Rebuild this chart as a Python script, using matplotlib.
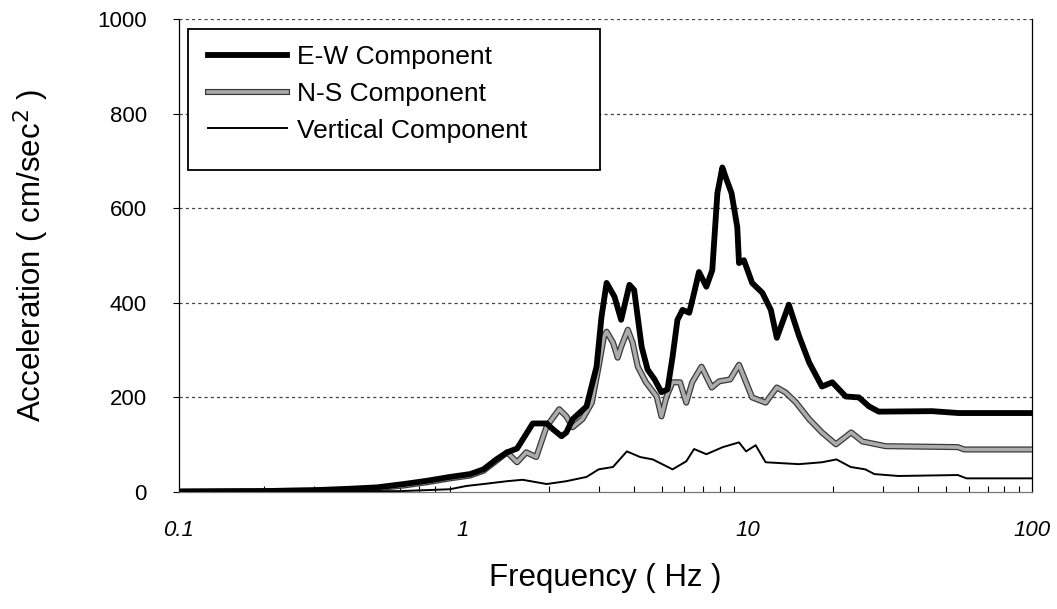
import numpy as np
import matplotlib
matplotlib.use('Agg')
import matplotlib.pyplot as plt
import matplotlib.patheffects as pe
from matplotlib.patches import Rectangle

# frequency (Hz) and acceleration (cm/sec^2)
ew_freq = [0.1, 0.2, 0.3, 0.4, 0.5, 0.62, 0.75, 0.9, 1.06, 1.18, 1.31, 1.43, 1.55,
           1.76, 1.97, 2.07, 2.22, 2.31, 2.43, 2.72, 2.95, 3.07, 3.2, 3.41, 3.6,
           3.85, 4.0, 4.25, 4.46, 4.72, 4.99, 5.24, 5.46, 5.68, 5.92, 6.25, 6.5,
           6.76, 7.18, 7.53, 7.85, 8.17, 8.4, 8.8, 9.22, 9.35, 9.73, 10.4, 11.3,
           12.1, 12.7, 14.0, 15.2, 16.5, 18.3, 19.9, 22.2, 24.7, 26.8, 29.0,
           44.6, 55.4, 100]
ew_acc = [1, 2, 4, 7, 10, 17, 24, 32, 38, 48, 69, 84, 92,
          145, 145, 133, 118, 126, 154, 181, 265, 370, 442, 413, 364,
          438, 427, 307, 259, 238, 211, 217, 286, 364, 385, 379, 421,
          465, 434, 469, 632, 686, 665, 632, 560, 484, 490, 442, 421,
          385, 326, 396, 330, 274, 223, 232, 202, 200, 181, 170,
          171, 167, 167]

ns_freq = [0.1, 0.2, 0.3, 0.4, 0.5, 0.62, 0.75, 0.9, 1.06, 1.18, 1.31, 1.43, 1.55,
           1.67, 1.81, 1.97, 2.18, 2.31, 2.43, 2.63, 2.84, 3.0, 3.13, 3.2, 3.37,
           3.5, 3.6, 3.8, 3.95, 4.12, 4.4, 4.8, 4.99, 5.2, 5.46, 5.8, 6.1, 6.4,
           6.9, 7.5, 7.96, 8.7, 9.35, 9.9, 10.4, 11.6, 12.7, 13.6, 14.8, 16.5,
           18.3, 20.5, 23.2, 25.4, 30.6, 55, 58, 100]
ns_acc = [1, 2, 3, 5, 8, 14, 21, 29, 35, 45, 66, 84, 63,
          84, 74, 139, 175, 160, 137, 154, 189, 265, 328, 339, 316,
          284, 307, 343, 316, 265, 232, 202, 160, 202, 232, 232, 189, 232,
          265, 221, 234, 238, 269, 232, 200, 189, 221, 211, 190, 154,
          126, 101, 126, 107, 97, 95, 90, 90]

v_freq = [0.1, 0.3, 0.6, 0.9, 1.03, 1.18, 1.43, 1.62, 1.97, 2.31, 2.72, 3.0, 3.37,
          3.77, 4.2, 4.65, 5.46, 6.1, 6.5, 7.18, 8.2, 9.35, 9.9, 10.7, 11.6,
          15.2, 18.3, 20.6, 23.1, 26.0, 28.0, 34.0, 55.0, 59.0, 100]
v_acc = [0, 1, 2, 6, 13, 17, 23, 26, 17, 23, 32, 48, 53,
         86, 74, 69, 48, 65, 91, 80, 95, 105, 86, 99, 63,
         59, 63, 69, 53, 48, 38, 34, 36, 29, 29]

x_ticks = [0.1, 1, 10, 100]
x_tick_labels = ['0.1', '1', '10', '100']
y_ticks = [0, 200, 400, 600, 800, 1000]

plt.rcParams['font.family'] = ['Liberation Sans', 'DejaVu Sans']

fig = plt.figure(figsize=(10.57, 6.09), dpi=100)
ax = fig.add_axes([0.169, 0.192, 0.807, 0.777])

ax.plot(ew_freq, ew_acc, color='black', lw=4.2, label='E-W Component', zorder=4)
ax.plot(ns_freq, ns_acc, color='#acacac', lw=2.6, label='N-S Component', zorder=3,
        path_effects=[pe.Stroke(linewidth=4.4, foreground='#3a3a3a'), pe.Normal()])
ax.plot(v_freq, v_acc, color='black', lw=1.4, label='Vertical Component', zorder=5)

ax.set_xscale('log')
ax.set_xlim(0.1, 100)
ax.set_ylim(0, 1000)

ax.set_xticks(x_ticks)
ax.set_xticklabels(x_tick_labels, fontsize=16, style='italic')
ax.set_yticks(y_ticks)
ax.set_yticklabels([str(v) for v in y_ticks], fontsize=16)
ax.tick_params(axis='x', which='major', length=0, pad=20)
ax.tick_params(axis='x', which='minor', direction='in', length=4, width=0.8)
ax.tick_params(axis='y', direction='out', length=4, width=0.8, pad=19)
ax.xaxis.set_minor_formatter(plt.NullFormatter())

for v in y_ticks[1:]:
    ax.axhline(v, color='#444444', lw=0.9, ls=(0, (2.5, 2.5)), zorder=1)

ax.spines['top'].set_visible(False)
ax.spines['left'].set_linewidth(0.9)
ax.spines['right'].set_linewidth(0.9)
ax.spines['bottom'].set_linewidth(0.9)
ax.spines['bottom'].set_color('#777777')

ax.set_xlabel('Frequency ( Hz )', fontsize=22.5, labelpad=16)
ax.set_ylabel('Acceleration ( cm/sec$^2$ )', fontsize=22.5, labelpad=33)

# legend box drawn separately so it spans the same width as in the figure
ax.add_patch(Rectangle((0.0106, 0.681), 0.483, 0.298, transform=ax.transAxes,
                       facecolor='white', edgecolor='black', lw=1.3, zorder=6))
leg = ax.legend(loc='upper left', bbox_to_anchor=(0.0176, 0.975), fontsize=19,
                frameon=False, handlelength=3.0, handletextpad=0.35,
                borderpad=0.55, borderaxespad=0, labelspacing=0.48)
leg.set_zorder(7)

fig.savefig('out.png', dpi=100)
